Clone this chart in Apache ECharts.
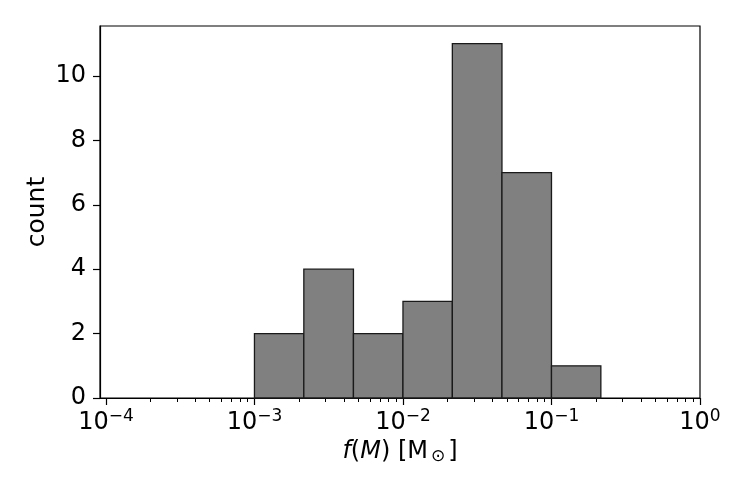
<!DOCTYPE html>
<html>
<head>
<meta charset="utf-8">
<script src="https://cdn.jsdelivr.net/npm/echarts@6/dist/echarts.min.js"></script>
<style>
  html, body { margin: 0; padding: 0; background: #fff; }
  #main { width: 747px; height: 498px; }
</style>
</head>
<body>
<div id="main"></div>
<script>
// histogram bin edges (f(M) in solar masses, log-spaced) and counts
var binEdges = [0.001, 0.00215, 0.00464, 0.01, 0.0215, 0.0464, 0.1, 0.215];
var counts = [2, 4, 2, 3, 11, 7, 1];

// axis ticks (x values are log10 exponents)
var xMajorTicks = [-4, -3, -2, -1, 0];
var yMax = 11.55;

var xMinorTicks = [];
xMajorTicks.slice(0, -1).forEach(function (e) {
    for (var k = 2; k <= 9; k++) {
        xMinorTicks.push(e + Math.log10(k));
    }
});

var barData = counts.map(function (c, i) {
    return [Math.log10(binEdges[i]), Math.log10(binEdges[i + 1]), c];
});

var FONT = 'DejaVu Sans';

var chart = echarts.init(document.getElementById('main'));

chart.setOption({
    animation: false,
    textStyle: { fontFamily: FONT, color: '#000' },
    grid: {
        left: 100,
        right: 47,
        top: 26,
        bottom: 100,
        show: true,
        borderColor: '#000',
        borderWidth: 1.2,
        backgroundColor: 'transparent'
    },
    xAxis: [{
        type: 'value',
        min: -4.04,
        max: 0,
        position: 'bottom',
        splitLine: { show: false },
        axisLine: { show: true, onZero: false, lineStyle: { color: '#000', width: 1.2 } },
        axisTick: { show: true, length: 7, customValues: xMajorTicks, lineStyle: { color: '#000', width: 1.2 } },
        axisLabel: {
            customValues: xMajorTicks,
            margin: 10,
            formatter: function (v) {
                var e = v === 0 ? '0' : '\u2212' + (-v);
                return '{b|10}{s|' + e + '}';
            },
            rich: {
                b: { fontFamily: FONT, fontSize: 24, color: '#000' },
                s: { fontFamily: FONT, fontSize: 17, color: '#000', padding: [0, 0, 13, 0] }
            }
        },
        name: '{i|f}{r|(}{i|M}{r|) [M}{sub|\u2299}{r|]}',
        nameLocation: 'middle',
        nameGap: 40,
        nameTextStyle: {
            rich: {
                i: { fontFamily: FONT, fontSize: 24, fontStyle: 'italic', color: '#000' },
                r: { fontFamily: FONT, fontSize: 24, color: '#000' },
                sub: { fontFamily: FONT, fontSize: 17, color: '#000', padding: [9, 3, 0, 3] }
            }
        }
    }, {
        type: 'value',
        min: -4.04,
        max: 0,
        position: 'bottom',
        offset: 0,
        splitLine: { show: false },
        axisLine: { show: false, onZero: false },
        axisLabel: { show: false },
        axisTick: { show: true, length: 4, customValues: xMinorTicks, lineStyle: { color: '#000', width: 1 } }
    }],
    yAxis: {
        type: 'value',
        position: 'left',
        min: 0,
        max: yMax,
        interval: 2,
        splitLine: { show: false },
        axisLine: { show: true, onZero: false, lineStyle: { color: '#000', width: 1.2 } },
        axisTick: { show: true, length: 7, lineStyle: { color: '#000', width: 1.2 } },
        axisLabel: {
            fontSize: 24, margin: 14, color: '#000', fontFamily: FONT,
            showMaxLabel: false,
            formatter: function (v) { return v % 2 === 0 ? String(v) : ''; }
        },
        name: 'count',
        nameLocation: 'middle',
        nameGap: 50,
        nameMoveOverlap: false,
        nameTextStyle: { fontSize: 25, fontFamily: FONT, color: '#000' }
    },
    series: [{
        type: 'custom',
        xAxisIndex: 0,
        encode: { x: [0, 1], y: 2 },
        data: barData,
        renderItem: function (params, api) {
            var p0 = api.coord([api.value(0), api.value(2)]);
            var p1 = api.coord([api.value(1), 0]);
            return {
                type: 'rect',
                shape: { x: p0[0], y: p0[1], width: p1[0] - p0[0], height: p1[1] - p0[1] },
                style: { fill: '#808080', stroke: '#1a1a1a', lineWidth: 1.3 }
            };
        }
    }]
});
</script>
</body>
</html>
